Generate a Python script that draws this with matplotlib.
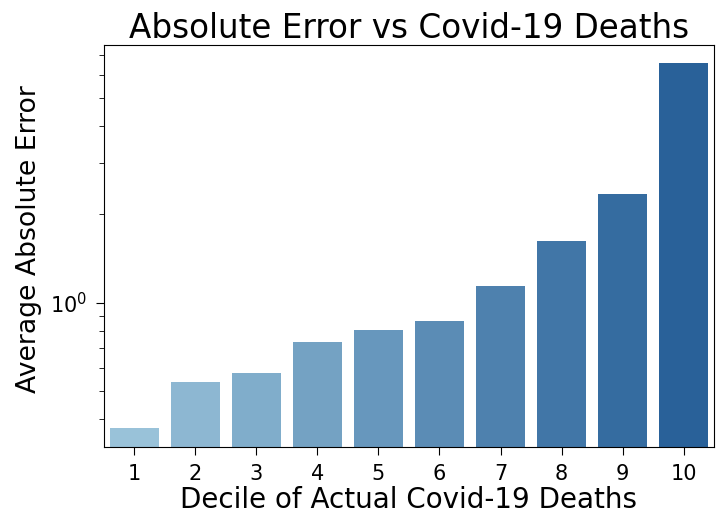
import matplotlib
matplotlib.use('Agg')
import matplotlib.pyplot as plt
from matplotlib.colors import LinearSegmentedColormap
from matplotlib.ticker import NullFormatter

# deciles and mean abs error
deciles = ['1', '2', '3', '4', '5', '6', '7', '8', '9', '10']
avg_abs_err = [0.374, 0.536, 0.575, 0.734, 0.807, 0.866, 1.14, 1.625, 2.35, 6.58]

cmap = LinearSegmentedColormap.from_list('blues', [(0.60, 0.76, 0.85), (0.16, 0.38, 0.60)])
colors = [cmap(i / (len(deciles) - 1)) for i in range(len(deciles))]

fig, ax = plt.subplots(figsize=(7.2, 5.21), dpi=100)
fig.subplots_adjust(left=0.144, right=0.992, top=0.914, bottom=0.142)

x = list(range(len(deciles)))
ax.bar(x, avg_abs_err, width=0.8, color=colors)
ax.set_yscale('log')
ax.set_ylim(0.322, 7.58)
ax.set_xlim(-0.5, len(deciles) - 0.5)
ax.set_xticks(x)
ax.set_xticklabels(deciles)
ax.yaxis.set_minor_formatter(NullFormatter())
ax.tick_params(which='major', labelsize=15, length=6, pad=6)
ax.tick_params(which='minor', length=3.5)

ax.set_title('Absolute Error vs Covid-19 Deaths', fontsize=23.5, pad=5)
ax.set_xlabel('Decile of Actual Covid-19 Deaths', fontsize=20, labelpad=2)
ax.set_ylabel('Average Absolute Error', fontsize=19.2, labelpad=6)
ax.yaxis.label.set_y(0.517)

fig.savefig('out.png', dpi=100)
